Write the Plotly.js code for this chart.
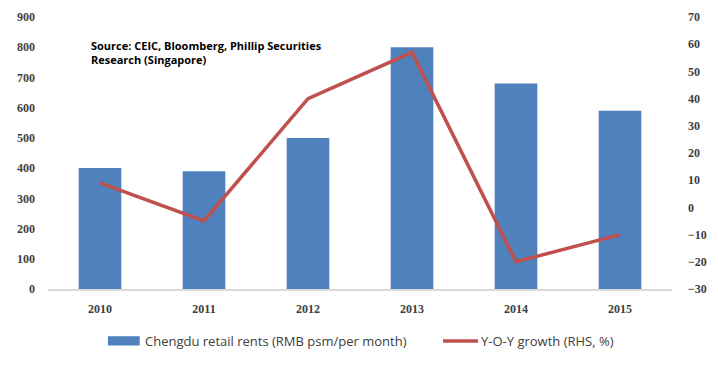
<!DOCTYPE html>
<html><head><meta charset="utf-8">
<script src="https://cdn.plot.ly/plotly-3.0.1.min.js"></script>
<style>body{margin:0;padding:0;background:#fff}#chart{width:718px;height:365px}</style>
</head><body><div id="chart"></div>
<script>
const years = ['2010','2011','2012','2013','2014','2015'];
const rents = [400, 390, 500, 800, 680, 590];
const growth = [9, -5, 40, 57, -20, -10];
const leftTicks = [0,100,200,300,400,500,600,700,800,900];
const rightTicks = [-30,-20,-10,0,10,20,30,40,50,60,70];
const seriesNames = ['Chengdu retail rents (RMB psm/per month)', 'Y-O-Y growth (RHS, %)'];
const barColor = '#4F81BD', lineColor = '#C0504D';

const tickFont = {family:'Liberation Serif, DejaVu Serif, serif', size:12, color:'#404040', weight:'bold'};
const legFont = {family:'Open Sans, Liberation Sans, sans-serif', size:13, color:'#404040'};
const traces = [
  {type:'bar', x:years, y:rents, name:seriesNames[0], marker:{color:barColor}, width:0.41},
  {type:'scatter', mode:'lines', x:years, y:growth, yaxis:'y2', name:seriesNames[1],
   line:{color:lineColor, width:3.5}}
];
const legY = -0.191;
const layout = {
  width:718, height:365,
  margin:{l:48, r:46, t:17, b:76},
  paper_bgcolor:'#fff', plot_bgcolor:'#fff',
  showlegend:false,
  xaxis:{type:'category', showline:true, linecolor:'#D9D9D9', linewidth:1.5, ticks:'', showgrid:false,
    tickfont:tickFont, ticklabelstandoff:8},
  yaxis:{range:[0,900], tickvals:leftTicks, showgrid:false, zeroline:false, showline:false,
    tickfont:tickFont, ticklabelstandoff:12},
  yaxis2:{range:[-30,70], tickvals:rightTicks, overlaying:'y', side:'right', showgrid:false, zeroline:false,
    showline:false, tickfont:tickFont, ticklabelstandoff:15},
  shapes:[
    {type:'rect', xref:'paper', yref:'paper', x0:0.096, x1:0.147, y0:legY-0.017, y1:legY+0.017,
      fillcolor:barColor, line:{width:0}},
    {type:'line', xref:'paper', yref:'paper', x0:0.633, x1:0.689, y0:legY, y1:legY,
      line:{color:lineColor, width:3.5}}
  ],
  annotations:[
    {xref:'paper', yref:'paper', x:0.065, y:0.871, xanchor:'left', yanchor:'middle', align:'left',
    showarrow:false, text:'Source: CEIC, Bloomberg, Phillip Securities<br>Research (Singapore)',
    font:{family:'Open Sans, Liberation Sans, sans-serif', size:11, color:'#000', weight:'bold'}},
    {xref:'paper', yref:'paper', x:0.152, y:legY, xanchor:'left', yanchor:'middle', showarrow:false,
     text:seriesNames[0], font:legFont},
    {xref:'paper', yref:'paper', x:0.691, y:legY, xanchor:'left', yanchor:'middle', showarrow:false,
     text:seriesNames[1], font:legFont}
  ]
};
Plotly.newPlot('chart', traces, layout, {displayModeBar:false, staticPlot:true});
</script></body></html>
